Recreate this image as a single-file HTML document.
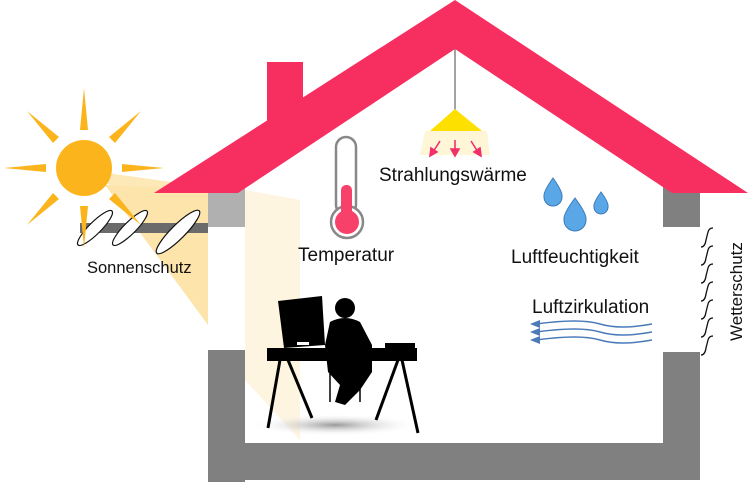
<!DOCTYPE html>
<html><head><meta charset="utf-8"><style>
html,body{margin:0;padding:0;background:#fff;}
svg{display:block;}
text{font-family:"Liberation Sans",Arial,sans-serif;fill:#111;}
</style></head><body>
<svg width="750" height="482" viewBox="0 0 750 482" xmlns="http://www.w3.org/2000/svg">
<defs>
<radialGradient id="sh" cx="50%" cy="50%" r="50%"><stop offset="0" stop-color="#999"/><stop offset="1" stop-color="#fff" stop-opacity="0"/></radialGradient>
</defs>
<polygon points="100,172 228,190 208,190 208,325" fill="#fde7b0" opacity="0.9"/>
<polygon points="105,185 208,190 208,325" fill="#fde4ab"/>
<polygon points="245,190 300,200 300,440 245,380" fill="#fef5e0"/>
<polygon points="208,350 245,350 245,380" fill="#b8b8b8"/>
<rect x="208" y="183" width="37" height="44" fill="#b0b0b0"/>
<rect x="208" y="350" width="37" height="132" fill="#808080"/>
<rect x="208" y="443" width="492" height="37" fill="#808080"/>
<rect x="663" y="183" width="37" height="44" fill="#808080"/>
<rect x="663" y="352" width="37" height="128" fill="#808080"/>
<polygon points="208,350 228,350 245,375 245,443 240,443" fill="#808080"/>
<rect x="267" y="62" width="36" height="70" fill="#f72e60"/>
<polygon points="455,0 748,193 672,193 455,49 238,193 154,193" fill="#f72e60"/>
<rect x="80" y="223" width="128" height="10" fill="#6b6b6b"/>
<g fill="#fff" stroke="#111" stroke-width="1.2">
<ellipse cx="95" cy="228" rx="24" ry="6" transform="rotate(-45 95 228)"/>
<ellipse cx="130" cy="228" rx="24" ry="6" transform="rotate(-45 130 228)"/>
<ellipse cx="178" cy="232" rx="30" ry="7" transform="rotate(-45 178 232)"/>
</g>
<text x="87" y="273" font-size="16.5">Sonnenschutz</text>
<g fill="#fbb41c">
<circle cx="84" cy="168" r="28"/>
<polygon points="84,88 80,130 88,130"/>
<polygon points="84,248 80,206 88,206"/>
<polygon points="4,168 46,164 46,172"/>
<polygon points="164,168 122,164 122,172"/>
<polygon points="27,111 53,143 59,137"/>
<polygon points="141,111 115,143 109,137"/>
<polygon points="27,225 53,193 59,199"/>
<polygon points="141,225 115,193 109,199"/>
</g>
<rect x="336" y="137" width="20" height="78" rx="10" fill="#fff" stroke="#888" stroke-width="2.5"/>
<circle cx="347" cy="222" r="16" fill="#fff" stroke="#888" stroke-width="2.5"/>
<rect x="338" y="214" width="18" height="6" fill="#fff"/>
<rect x="341" y="185" width="11" height="35" rx="5" fill="#f7406a"/>
<circle cx="347" cy="222" r="12" fill="#f7406a"/>
<text x="298" y="261" font-size="19">Temperatur</text>
<line x1="455" y1="49" x2="455" y2="110" stroke="#666" stroke-width="1.2"/>
<polygon points="455,109 430,131 482,131" fill="#fde000"/>
<polygon points="425,131 487,131 490,155 420,155" fill="#fff6d8"/>
<g stroke="#f0306a" stroke-width="1.6" fill="#f0306a">
<line x1="440" y1="141" x2="433" y2="152"/><polygon points="430,156 431,148 437,152"/>
<line x1="455" y1="140" x2="455" y2="151"/><polygon points="455,156 451,149 459,149"/>
<line x1="471" y1="141" x2="478" y2="152"/><polygon points="481,156 474,152 480,148"/>
</g>
<text x="379" y="181" font-size="19">Strahlungswärme</text>
<g fill="#5aa7e8" stroke="#3a7ab8" stroke-width="1">
<path d="M553,178 Q543,192 544,197 A9,9 0 0 0 562,197 Q563,192 553,178Z"/>
<path d="M575,198 Q563,214 564,220 A11,11 0 0 0 586,220 Q587,214 575,198Z"/>
<path d="M601,192 Q593,203 594,207 A7,7 0 0 0 608,207 Q609,203 601,192Z"/>
</g>
<text x="511" y="263" font-size="19">Luftfeuchtigkeit</text>
<text x="532" y="313" font-size="19">Luftzirkulation</text>
<g stroke="#4a7ab8" stroke-width="1.5" fill="none">
<path d="M536,324 Q580,318 600,324 T652,324"/>
<path d="M536,332 Q580,326 600,332 T652,332"/>
<path d="M536,340 Q580,334 600,340 T652,340"/>
</g>
<g fill="#4a7ab8">
<polygon points="530,324 540,320 540,328"/>
<polygon points="530,332 540,328 540,336"/>
<polygon points="530,340 540,336 540,344"/>
</g>
<g stroke="#111" stroke-width="1.3" fill="none">
<path d="M701,247 Q705,247 706,240 L708,232 Q709,228 713,228"/>
<path d="M701,265 Q705,265 706,258 L708,250 Q709,246 713,246"/>
<path d="M701,283 Q705,283 706,276 L708,268 Q709,264 713,264"/>
<path d="M701,301 Q705,301 706,294 L708,286 Q709,282 713,282"/>
<path d="M701,319 Q705,319 706,312 L708,304 Q709,300 713,300"/>
<path d="M701,337 Q705,337 706,330 L708,322 Q709,318 713,318"/>
<path d="M701,355 Q705,355 706,348 L708,340 Q709,336 713,336"/>
</g>
<text transform="translate(742,341) rotate(-90)" font-size="17">Wetterschutz</text>
<ellipse cx="335" cy="425" rx="85" ry="11" fill="url(#sh)"/>
<g fill="#000" stroke="#000">
<polygon points="278,301 322,296 325,345 284,348" stroke="none"/>
<rect x="267" y="348" width="150" height="13" stroke="none"/>
<rect x="385" y="343" width="30" height="8" stroke="none"/>
<line x1="280" y1="360" x2="268" y2="428" stroke-width="3"/>
<line x1="288" y1="360" x2="312" y2="418" stroke-width="3"/>
<line x1="398" y1="360" x2="376" y2="420" stroke-width="3"/>
<line x1="402" y1="360" x2="418" y2="433" stroke-width="3"/>
<circle cx="345" cy="308" r="10" stroke="none"/>
<path d="M330,322 Q345,314 360,322 L372,345 L372,372 L360,390 L345,405 L335,402 L340,385 L328,372 L325,345Z" stroke="none"/>
<line x1="330" y1="372" x2="330" y2="402" stroke-width="1.5"/>
<line x1="360" y1="372" x2="360" y2="402" stroke-width="1.5"/>
</g>
<rect x="297" y="342" width="12" height="3" fill="#fff"/>
</svg>
</body></html>
